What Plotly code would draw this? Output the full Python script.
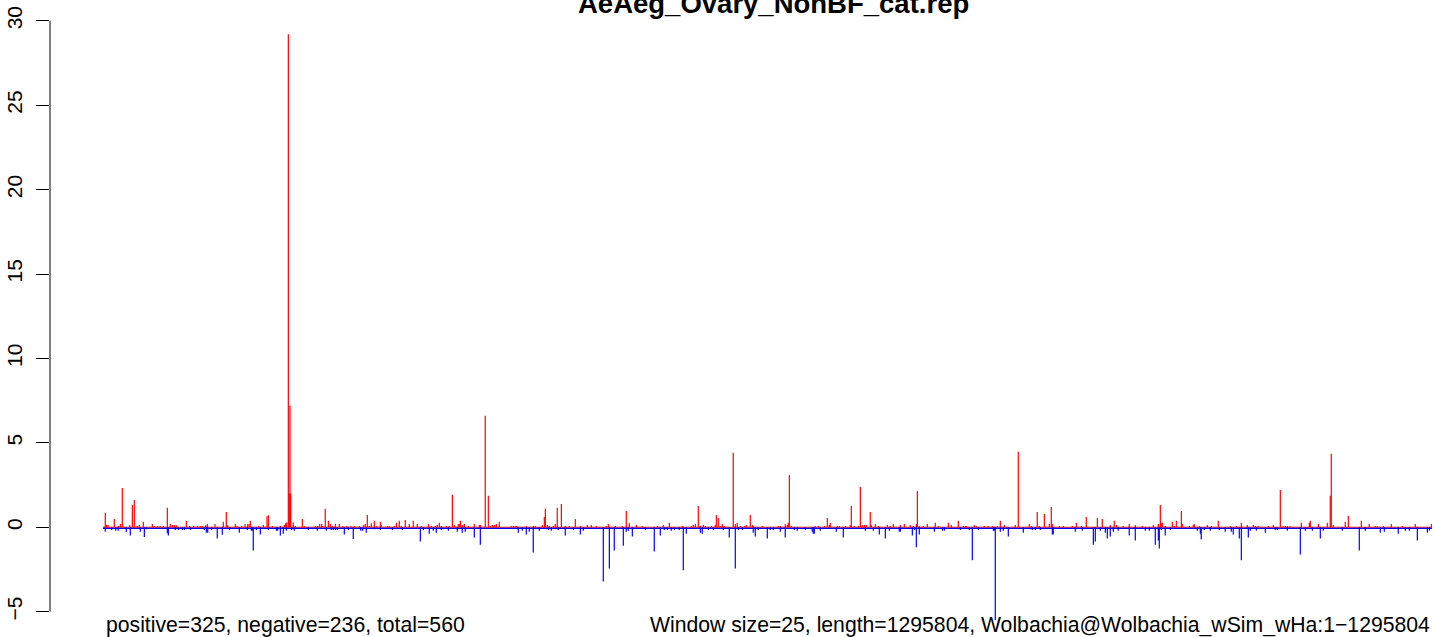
import plotly.graph_objects as go

# ---------------- data (window position in kb, score) ----------------
genome_length_kb = 1295.804

pos_kb = [
    2.2, 3.4, 4.9, 11.0, 15.1, 16.9, 18.8, 26.0, 28.6, 30.5,
    33.4, 35.4, 39.3, 48.1, 50.0, 53.3, 55.6, 58.8, 62.7, 65.6,
    67.6, 69.5, 71.5, 81.2, 84.5, 88.4, 92.3, 94.9, 96.8, 100.1,
    101.7, 109.2, 117.3, 120.2, 121.6, 129.0, 130.7, 135.2, 138.5, 141.1,
    142.4, 143.6, 151.8, 156.3, 159.9, 161.2, 165.1, 172.9, 176.8, 178.1,
    179.1, 180.7, 181.6, 182.3, 183.0, 185.5, 187.5, 194.3, 196.3, 207.0,
    209.3, 211.3, 213.2, 214.2, 216.7, 219.7, 221.6, 223.6, 226.5, 230.4,
    234.0, 237.6, 241.8, 245.0, 249.9, 254.2,
    255.7, 257.7, 259.6, 261.6, 264.5, 266.5, 270.4, 271.3, 277.2, 279.1,
    284.0, 286.0, 288.9, 290.8, 294.7, 298.6, 302.5, 306.4, 310.3, 317.2,
    320.1, 324.0, 325.9, 327.9, 329.8, 334.7, 337.6, 340.6, 342.5, 346.4,
    347.4, 348.4, 350.3, 352.3, 356.2, 362.0, 366.9, 367.9, 372.7, 375.7,
    377.6, 379.6, 381.5, 383.5, 386.4, 398.1, 400.1, 402.0, 403.4, 412.7,
    419.5, 421.5, 428.3, 430.3, 431.3, 433.2, 435.1, 439.0, 441.0, 442.9,
    446.9, 450.7, 454.6, 460.5, 465.4, 472.2, 476.1, 481.0, 490.7, 492.7,
    499.5, 506.3, 510.2, 513.2,
    520.0, 525.8, 540.5, 546.3, 552.2, 564.8, 573.6, 575.5, 577.5, 580.4,
    582.4, 585.3, 587.3, 593.1, 597.0, 598.0, 599.9, 601.9, 603.8, 605.8,
    614.5, 616.5, 618.4, 621.4, 625.3, 627.2, 631.1, 633.1, 634.0, 642.8,
    658.4, 660.4, 665.2, 667.2, 668.2, 669.2, 671.1, 694.5, 697.4, 703.3,
    706.2, 708.2, 709.1, 716.0, 717.9, 723.8, 728.6, 729.6, 732.5, 736.4,
    738.4, 740.3, 742.3, 744.2, 748.1, 749.1, 753.0, 755.9, 764.7, 767.6,
    770.5,
    777.4, 781.3, 787.1, 790.1, 793.0, 794.0, 795.9, 799.8, 803.7, 811.5,
    814.4, 824.2, 827.1, 833.9, 838.8, 840.7, 841.7, 849.5, 851.4, 859.2,
    863.1, 867.1, 871.9, 874.9, 878.8, 889.5, 892.4, 903.1, 905.1, 910.9,
    912.9, 917.8, 922.7, 924.6, 925.6, 932.4, 936.3, 945.1, 949.0, 953.9,
    958.7, 969.5, 974.3, 982.1, 986.0, 988.0, 994.8, 1000.6, 1006.5, 1013.3,
    1024.1, 1029.0,
    1030.9, 1031.8, 1032.8, 1035.7, 1042.6, 1044.5, 1046.5, 1051.4, 1052.3, 1059.2,
    1063.0, 1064.0, 1068.9, 1076.7, 1080.6, 1087.4, 1099.1, 1105.0, 1109.9, 1115.7,
    1121.6, 1123.5, 1126.4, 1136.2, 1141.1, 1147.9, 1150.8, 1152.8, 1154.7, 1157.3,
    1168.4, 1176.2, 1177.1, 1185.0, 1193.7, 1196.6, 1197.6, 1199.5, 1211.2, 1214.2,
    1226.9, 1234.6, 1240.5, 1242.5, 1248.3, 1256.1, 1266.9, 1279.5, 1295.1,
]
pos_val = [
    0.85, 0.14, 0.14, 0.49, 0.08, 0.2, 2.33, 0.12, 1.32, 1.62,
    0.08, 0.14, 0.32, 0.2, 0.08, 0.08, 0.08, 0.08, 1.15, 0.2,
    0.14, 0.14, 0.12, 0.38, 0.08, 0.08, 0.08, 0.08, 0.08, 0.12,
    0.2, 0.2, 0.32, 0.91, 0.12, 0.2, 0.08, 0.08, 0.2, 0.2,
    0.2, 0.38, 0.08, 0.14, 0.65, 0.71, 0.08, 0.08, 0.14, 0.24,
    0.28, 29.2, 2.0, 7.2, 2.0, 0.28, 0.08, 0.49, 0.08, 0.08,
    0.08, 0.2, 0.2, 0.08, 1.09, 0.38, 0.2, 0.08, 0.2, 0.2,
    0.08, 0.08, 0.08, 0.08, 0.08, 0.14,
    0.2, 0.73, 0.08, 0.24, 0.38, 0.08, 0.32, 0.14, 0.08, 0.08,
    0.08, 0.26, 0.38, 0.08, 0.43, 0.2, 0.38, 0.2, 0.08, 0.2,
    0.08, 0.08, 0.14, 0.26, 0.08, 0.08, 0.08, 1.92, 0.14, 0.2,
    0.2, 0.38, 0.14, 0.2, 0.08, 0.2, 0.14, 0.14, 6.6, 1.86,
    0.08, 0.14, 0.14, 0.2, 0.32, 0.08, 0.08, 0.08, 0.08, 0.08,
    0.08, 0.08, 0.14, 0.61, 1.09, 0.14, 0.08, 0.08, 0.2, 1.15,
    1.38, 0.08, 0.08, 0.49, 0.08, 0.14, 0.14, 0.08, 0.08, 0.2,
    0.08, 0.08, 0.97, 0.24,
    0.14, 0.08, 0.08, 0.14, 0.26, 0.08, 0.08, 0.14, 0.2, 1.26,
    0.08, 0.14, 0.08, 0.08, 0.14, 0.73, 0.55, 0.08, 0.2, 0.08,
    4.41, 0.2, 0.26, 0.08, 0.08, 0.14, 0.73, 0.14, 0.08, 0.08,
    0.08, 0.08, 0.2, 0.14, 0.26, 3.1, 0.08, 0.08, 0.08, 0.08,
    0.55, 0.14, 0.26, 0.08, 0.08, 0.08, 0.14, 1.26, 0.08, 0.08,
    2.39, 0.14, 0.14, 0.14, 0.91, 0.14, 0.2, 0.08, 0.14, 0.08,
    0.2,
    0.14, 0.2, 0.14, 0.08, 0.2, 2.15, 0.08, 0.08, 0.2, 0.26,
    0.08, 0.26, 0.14, 0.38, 0.08, 0.08, 0.08, 0.14, 0.08, 0.08,
    0.08, 0.08, 0.08, 0.38, 0.14, 0.14, 4.47, 0.2, 0.08, 0.91,
    0.08, 0.79, 0.2, 1.2, 0.2, 0.08, 0.08, 0.08, 0.26, 0.08,
    0.61, 0.55, 0.49, 0.14, 0.38, 0.14, 0.08, 0.2, 0.14, 0.08,
    0.14, 0.2,
    1.32, 0.26, 0.26, 0.08, 0.32, 0.08, 0.38, 0.97, 0.2, 0.08,
    0.14, 0.2, 0.08, 0.14, 0.08, 0.38, 0.08, 0.08, 0.26, 0.14,
    0.14, 0.08, 0.08, 0.08, 0.14, 2.21, 0.08, 0.08, 0.08, 0.08,
    0.26, 0.26, 0.38, 0.2, 0.26, 1.86, 4.35, 0.14, 0.32, 0.67,
    0.38, 0.2, 0.08, 0.08, 0.08, 0.2, 0.08, 0.2, 0.2,
]

neg_kb = [
    2.2, 8.5, 12.4, 14.9, 22.7, 26.6, 36.4, 40.3, 42.2, 62.7,
    63.7, 70.5, 73.4, 77.3, 79.3, 85.1, 98.8, 100.7, 102.1, 106.0,
    111.4, 116.3, 123.5, 132.9, 140.7, 144.6, 145.6, 146.5, 149.5, 153.4,
    161.2, 169.0, 170.3, 172.9, 175.8, 178.7, 184.0, 186.5, 200.2, 208.9,
    217.7, 222.6, 224.5, 226.5, 228.4, 235.3, 239.2, 244.0, 251.3, 253.2,
    256.7, 264.5, 270.4, 282.1, 291.8, 309.4, 312.3, 318.1, 322.0, 325.0,
    329.8, 336.7, 345.4, 350.3, 353.2, 362.0, 367.9, 404.9, 408.8, 412.7,
    415.6, 419.5, 425.4, 434.2, 437.1, 443.9, 450.7, 458.5, 465.4, 468.3,
    487.8, 493.7, 498.5, 507.3, 512.2,
    510.2, 516.1, 528.7, 537.5, 543.4, 547.3, 550.2, 554.1, 557.0, 561.9,
    565.8, 568.7, 582.4, 584.3, 590.2, 595.0, 604.8, 610.6, 616.5, 619.4,
    623.3, 634.0, 636.0, 638.9, 647.7, 650.6, 653.5, 660.4, 665.2, 674.0,
    676.9, 684.7, 691.5, 692.5, 693.5, 699.3, 715.0, 721.8, 743.3, 751.1,
    756.9, 762.8, 766.7,
    776.4, 777.4, 789.1, 791.1, 793.0, 795.9, 810.6, 818.4, 820.3, 835.9,
    844.7, 847.6, 853.5, 868.1, 869.1, 870.0, 874.9, 877.8, 882.7, 897.3,
    906.1, 909.0, 913.9, 925.6, 926.5, 948.0, 954.8, 965.6, 967.5, 972.4,
    977.3, 979.2, 982.1, 985.1, 989.9, 1000.6, 1006.5, 1016.3, 1020.2, 1026.0,
    1029.0, 1029.9,
    1031.8, 1035.7, 1040.6, 1066.9, 1069.9, 1070.8, 1073.7, 1079.6, 1088.4, 1094.2,
    1100.1, 1102.0, 1107.9, 1109.9, 1116.7, 1118.6, 1124.5, 1133.3, 1143.0, 1145.0,
    1154.7, 1167.4, 1172.3, 1179.1, 1186.9, 1189.8, 1208.3, 1224.9, 1230.7, 1245.4,
    1249.3, 1262.9, 1269.8, 1273.7, 1281.5, 1291.3, 1293.3,
]
neg_val = [
    -0.26, -0.16, -0.2, -0.2, -0.28, -0.49, -0.26, -0.57, -0.12, -0.36,
    -0.49, -0.16, -0.16, -0.16, -0.16, -0.16, -0.16, -0.32, -0.32, -0.16,
    -0.67, -0.45, -0.16, -0.32, -0.16, -0.2, -0.2, -1.38, -0.16, -0.43,
    -0.16, -0.2, -0.2, -0.49, -0.38, -0.2, -0.16, -0.2, -0.16, -0.2,
    -0.2, -0.16, -0.16, -0.16, -0.16, -0.43, -0.16, -0.69, -0.2, -0.2,
    -0.32, -0.12, -0.16, -0.16, -0.16, -0.85, -0.16, -0.38, -0.2, -0.32,
    -0.16, -0.2, -0.26, -0.32, -0.26, -0.61, -1.03, -0.32, -0.2, -0.43,
    -0.26, -1.5, -0.2, -0.16, -0.2, -0.16, -0.49, -0.16, -0.43, -0.2,
    -3.22, -2.45, -1.38, -1.09, -0.2,
    -0.26, -0.55, -0.16, -1.44, -0.49, -0.16, -0.16, -0.2, -0.16, -0.16,
    -2.55, -0.38, -0.32, -0.38, -0.16, -0.16, -0.16, -0.61, -2.45, -0.16,
    -0.16, -0.32, -0.55, -0.16, -0.67, -0.16, -0.16, -0.26, -0.61, -0.16,
    -0.2, -0.16, -0.26, -0.38, -0.38, -0.2, -0.26, -0.61, -0.2, -0.2,
    -0.43, -0.67, -0.2,
    -0.26, -0.26, -0.49, -0.16, -1.19, -0.43, -0.26, -0.2, -0.2, -0.16,
    -0.16, -1.96, -0.16, -0.2, -0.2, -5.5, -0.26, -0.2, -0.55, -0.32,
    -0.16, -0.16, -0.16, -0.43, -0.43, -0.26, -0.2, -1.03, -0.85, -0.2,
    -0.32, -0.67, -0.55, -0.26, -0.2, -0.49, -0.79, -0.2, -0.2, -1.03,
    -0.79, -1.26,
    -0.16, -0.49, -0.16, -0.2, -0.38, -0.73, -0.16, -0.2, -0.16, -0.26,
    -0.26, -0.43, -0.67, -1.96, -0.61, -0.2, -0.2, -0.32, -0.16, -0.16,
    -0.2, -1.62, -0.2, -0.2, -0.67, -0.2, -0.2, -1.38, -0.2, -0.32,
    -0.26, -0.38, -0.2, -0.2, -0.79, -0.32, -0.2,
]

y_tick_vals = [-5, 0, 5, 10, 15, 20, 25, 30]
y_tick_text = ["\u22125", "0", "5", "10", "15", "20", "25", "30"]

title_text = "AeAeg_Ovary_NonBF_cat.rep"
left_note = "positive=325, negative=236, total=560"
right_note = ("Window size=25, length=1295804, "
              "Wolbachia@Wolbachia_wSim_wHa:1\u22121295804")

assert len(pos_kb) == len(pos_val)
assert len(neg_kb) == len(neg_val)


def spikes(xs, ys):
    px, py = [], []
    for x, y in zip(xs, ys):
        px += [x, x, None]
        py += [0, y, None]
    return px, py


FONT = "Liberation Sans, Arial, Helvetica, sans-serif"

fig = go.Figure()

# continuous baseline bands
fig.add_trace(go.Scatter(x=[0, genome_length_kb], y=[0, 0], mode="lines",
                         line=dict(color="red", width=1.2), hoverinfo="skip",
                         showlegend=False))
fig.add_trace(go.Scatter(x=[0, genome_length_kb], y=[-0.065, -0.065], mode="lines",
                         line=dict(color="blue", width=1.4), hoverinfo="skip",
                         showlegend=False))

xr, yr = spikes(pos_kb, pos_val)
fig.add_trace(go.Scatter(x=xr, y=yr, mode="lines",
                         line=dict(color="red", width=1.2), showlegend=False))
xb, yb = spikes(neg_kb, neg_val)
fig.add_trace(go.Scatter(x=xb, y=yb, mode="lines",
                         line=dict(color="blue", width=1.2), showlegend=False))

W, H = 1433, 637
L = 50
kb_per_px = genome_length_kb / 1329.0
x_left = -(103 - L) * kb_per_px
x_right = (W - 103) * kb_per_px

fig.update_layout(
    width=W, height=H,
    margin=dict(l=L, r=0, t=0, b=0),
    paper_bgcolor="white", plot_bgcolor="white",
    font=dict(family=FONT, color="black", size=21),
    showlegend=False,
    xaxis=dict(visible=False, range=[x_left, x_right], fixedrange=True),
    yaxis=dict(range=[-6.5, 31.23], tickvals=y_tick_vals, ticktext=y_tick_text,
               ticks="outside", ticklen=13, tickwidth=1, tickcolor="black",
               tickangle=-90, tickfont=dict(size=21, family=FONT),
               showgrid=False, zeroline=False, showline=False,
               ticklabelstandoff=6),
    shapes=[dict(type="line", xref="paper", yref="y", x0=0, x1=0,
                 y0=min(y_tick_vals), y1=max(y_tick_vals),
                 line=dict(color="black", width=1))],
    annotations=[
        dict(text="<b>" + title_text + "</b>", xref="paper", yref="paper",
             x=(773 - L) / (W - L), y=1 - 3 / H, xanchor="center", yanchor="middle",
             showarrow=False, font=dict(size=27.5, family=FONT)),
        dict(text=left_note, xref="paper", yref="paper",
             x=(104 - L) / (W - L), y=1 - 625 / H, xanchor="left", yanchor="middle",
             showarrow=False, font=dict(size=21.2, family=FONT)),
        dict(text=right_note, xref="paper", yref="paper",
             x=(1432 - L) / (W - L), y=1 - 625 / H, xanchor="right", yanchor="middle",
             showarrow=False, font=dict(size=21.2, family=FONT)),
    ],
)

fig.write_html("out.html",
               config={"displayModeBar": False},
               post_script="document.body.style.margin='0';"
                           "document.body.style.overflow='hidden';")
